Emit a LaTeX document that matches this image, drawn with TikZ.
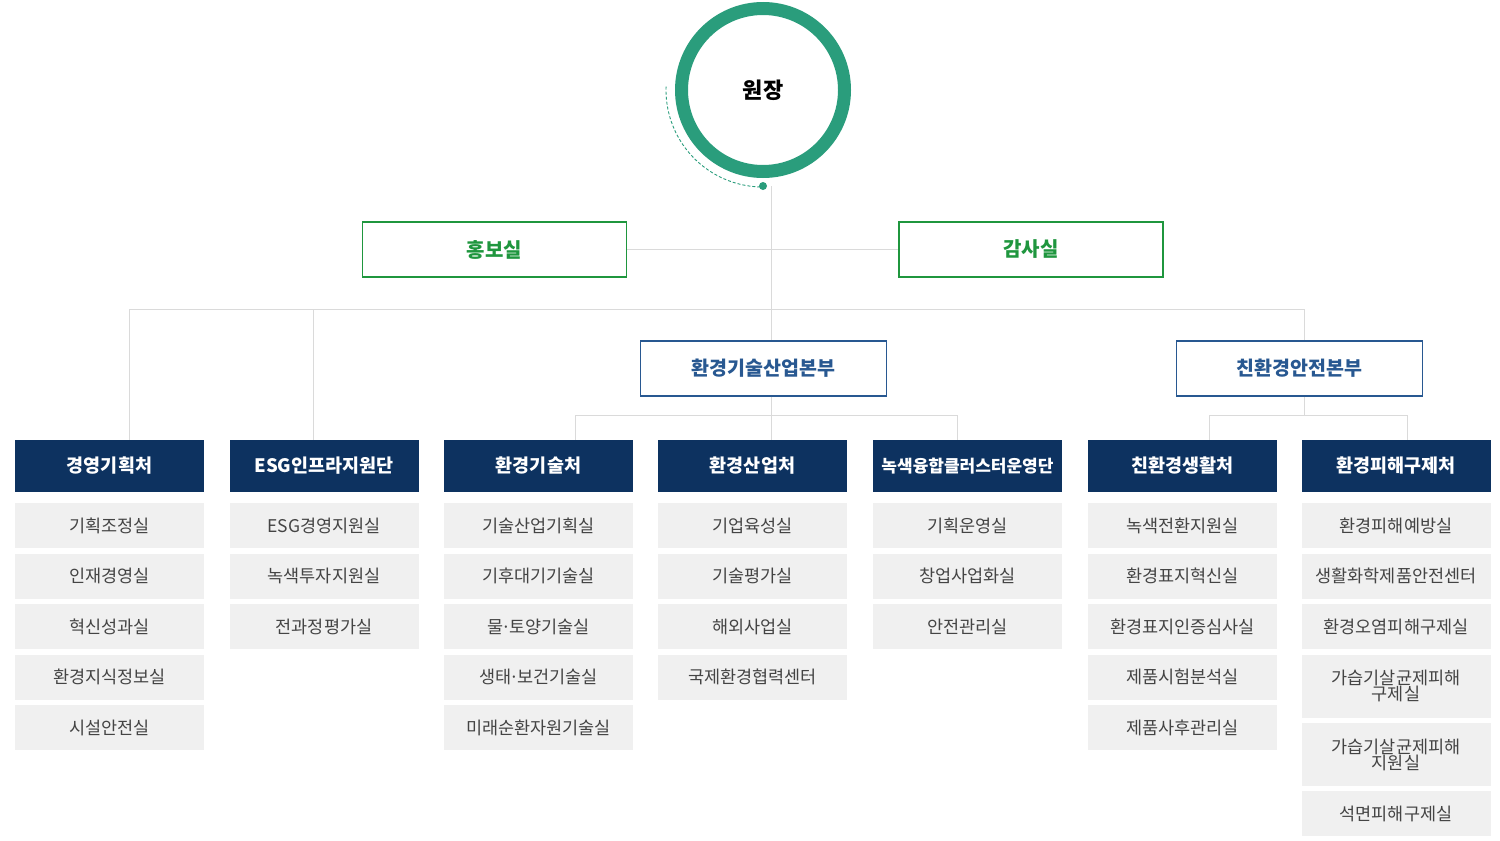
\documentclass[tikz,border=0pt]{standalone}
\usepackage{fontspec}
\setmainfont{Noto Sans CJK KR}
\usepackage{tikz}
\usetikzlibrary{positioning}
\definecolor{ringgreen}{RGB}{42,157,124}
\definecolor{staffgreen}{RGB}{31,150,62}
\definecolor{hqblue}{RGB}{40,88,145}
\definecolor{deptnavy}{RGB}{13,50,96}
\definecolor{teamgray}{RGB}{240,240,240}
\definecolor{teamtext}{RGB}{68,68,68}
\definecolor{linegray}{RGB}{218,218,218}
\newcommand{\middot}{\kern-0.12em·\kern-0.12em}

\begin{document}
\begin{tikzpicture}[x=1pt,y=1pt,
    chief/.style={circle,draw=ringgreen,line width=13pt,minimum size=163pt,
      font=\fontsize{22}{24}\selectfont\bfseries},
    staff/.style={draw=staffgreen,line width=1.6pt,fill=white,text=staffgreen,
      minimum width=264pt,minimum height=55pt,font=\fontsize{20}{22}\selectfont\bfseries},
    hq/.style={draw=hqblue,line width=1.6pt,fill=white,text=hqblue,
      minimum width=246pt,minimum height=55pt,font=\fontsize{19.5}{22}\selectfont\bfseries},
    dept/.style={fill=deptnavy,text=white,minimum width=189pt,minimum height=52pt,
      inner sep=0pt,font=\fontsize{18.5}{20}\selectfont\bfseries},
    team/.style={fill=teamgray,text=teamtext,minimum width=189pt,minimum height=45pt,
      align=center,font=\fontsize{17.5}{16}\selectfont},
    tallteam/.style={team,minimum height=63pt},
    link/.style={draw=linegray,line width=1pt}]
  \useasboundingbox (0,0) rectangle (1500,-841);

  % top
  \node[chief] (ceo) at (763,-90) {원장};
  \draw[ringgreen,line width=0.9pt,dash pattern=on 3pt off 2pt]
    (ceo.center) ++(178:97) arc[start angle=178,end angle=270,radius=97];
  \fill[ringgreen] (763,-186) circle (4pt);
  \coordinate (trunk) at (771,-186);

  \node[staff] (pr) at (494.5,-249.5) {홍보실};
  \node[staff] (audit) at (1031,-249.5) {감사실};
  \node[hq] (hq1) at (763.5,-368.5) {환경기술산업본부};
  \node[hq] (hq2) at (1299.5,-368.5) {친환경안전본부};

  % departments
  \node[dept] (d1) at (109.5,-466) {경영기획처};
  \node[dept] (d2) at (324,-466) {ESG인프라지원단};
  \node[dept] (d3) at (538.5,-466) {환경기술처};
  \node[dept] (d4) at (752.5,-466) {환경산업처};
  \node[dept,font=\fontsize{17}{19}\selectfont\bfseries] (d5) at (967.5,-466) {녹색융합클러스터운영단};
  \node[dept] (d6) at (1182.5,-466) {친환경생활처};
  \node[dept] (d7) at (1396,-466) {환경피해구제처};

  % teams
  \node[team,below=11pt of d1] (t1a) {기획조정실};
  \node[team,below=5pt of t1a] (t1b) {인재경영실};
  \node[team,below=5pt of t1b] (t1c) {혁신성과실};
  \node[team,below=5pt of t1c] (t1d) {환경지식정보실};
  \node[team,below=5pt of t1d] (t1e) {시설안전실};

  \node[team,below=11pt of d2] (t2a) {ESG경영지원실};
  \node[team,below=5pt of t2a] (t2b) {녹색투자지원실};
  \node[team,below=5pt of t2b] (t2c) {전과정평가실};

  \node[team,below=11pt of d3] (t3a) {기술산업기획실};
  \node[team,below=5pt of t3a] (t3b) {기후대기기술실};
  \node[team,below=5pt of t3b] (t3c) {물\middot 토양기술실};
  \node[team,below=5pt of t3c] (t3d) {생태\middot 보건기술실};
  \node[team,below=5pt of t3d] (t3e) {미래순환자원기술실};

  \node[team,below=11pt of d4] (t4a) {기업육성실};
  \node[team,below=5pt of t4a] (t4b) {기술평가실};
  \node[team,below=5pt of t4b] (t4c) {해외사업실};
  \node[team,below=5pt of t4c] (t4d) {국제환경협력센터};

  \node[team,below=11pt of d5] (t5a) {기획운영실};
  \node[team,below=5pt of t5a] (t5b) {창업사업화실};
  \node[team,below=5pt of t5b] (t5c) {안전관리실};

  \node[team,below=11pt of d6] (t6a) {녹색전환지원실};
  \node[team,below=5pt of t6a] (t6b) {환경표지혁신실};
  \node[team,below=5pt of t6b] (t6c) {환경표지인증심사실};
  \node[team,below=5pt of t6c] (t6d) {제품시험분석실};
  \node[team,below=5pt of t6d] (t6e) {제품사후관리실};

  \node[team,below=11pt of d7] (t7a) {환경피해예방실};
  \node[team,below=5pt of t7a] (t7b) {생활화학제품안전센터};
  \node[team,below=5pt of t7b] (t7c) {환경오염피해구제실};
  \node[tallteam,below=5pt of t7c] (t7d) {가습기살균제피해\\구제실};
  \node[tallteam,below=5pt of t7d] (t7e) {가습기살균제피해\\지원실};
  \node[team,below=5pt of t7e] (t7f) {석면피해구제실};

  % connectors
  \coordinate (jl) at (129,-309);
  \coordinate (jesg) at (313,-309);
  \coordinate (jr) at (1304,-309);
  \coordinate (k3) at (575,-415);
  \coordinate (k5) at (957,-415);
  \coordinate (k6) at (1209,-415);
  \coordinate (k7) at (1407,-415);
  \draw[link] (trunk) -- (trunk |- hq1.north);
  \draw[link] (pr.east) -- (audit.west);
  \draw[link] (jl |- d1.north) -- (jl) -- (jr) -- (jr |- hq2.north);
  \draw[link] (jesg) -- (jesg |- d2.north);
  \draw[link] (trunk |- hq1.south) -- (trunk |- d4.north);
  \draw[link] (k3 |- d3.north) -- (k3) -- (k5) -- (k5 |- d5.north);
  \draw[link] (jr |- hq2.south) -- (jr |- k6);
  \draw[link] (k6 |- d6.north) -- (k6) -- (k7) -- (k7 |- d7.north);
\end{tikzpicture}
\end{document}
